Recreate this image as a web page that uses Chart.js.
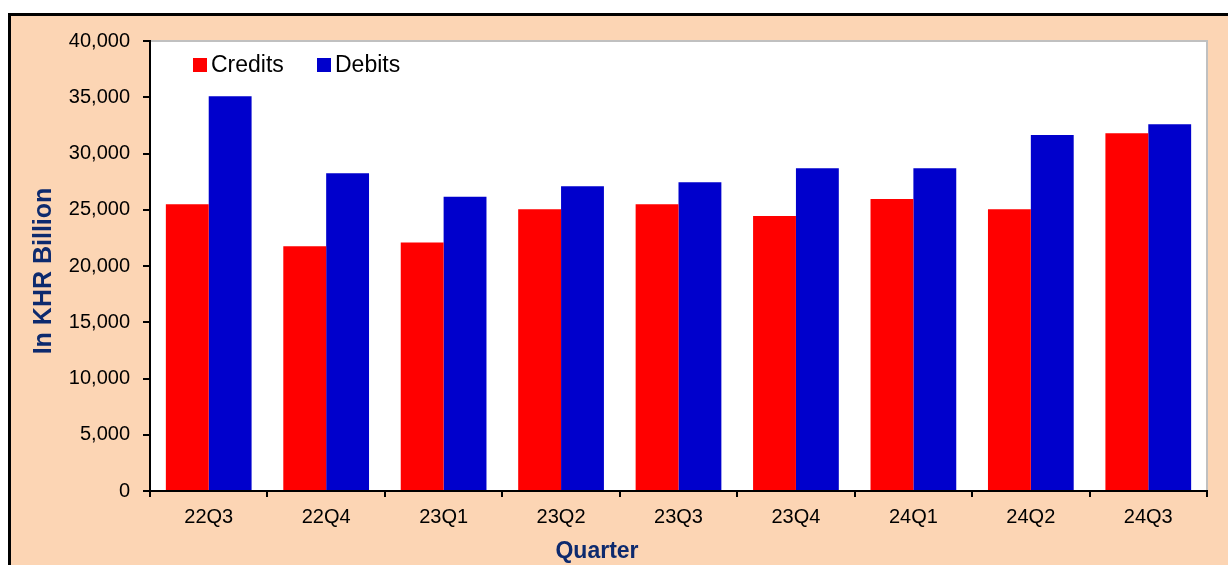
<!DOCTYPE html>
<html>
<head>
<meta charset="utf-8">
<script src="https://cdn.jsdelivr.net/npm/chart.js@4.4.0/dist/chart.umd.min.js"></script>
<style>
  html, body { margin: 0; padding: 0; background: #ffffff; }
  #wrap { position: relative; width: 1228px; height: 565px; }
</style>
</head>
<body>
<div id="wrap"><canvas id="chart" width="1228" height="565"></canvas></div>
<script>
// quarterly flows, KHR billion
const quarters = ['22Q3', '22Q4', '23Q1', '23Q2', '23Q3', '23Q4', '24Q1', '24Q2', '24Q3'];
const credits = [25500, 21750, 22100, 25050, 25500, 24450, 25950, 25050, 31800];
const debits = [35100, 28250, 26150, 27100, 27450, 28700, 28700, 31650, 32600];
const xTitle = 'Quarter';
const yTitle = 'In KHR Billion';

const FONT = 'Arial, "Liberation Sans", sans-serif';
const NAVY = '#0d2a6e';

// peach frame with black outline, grey plot border
const framePlugin = {
  id: 'frame',
  beforeDraw(chart) {
    const { ctx, width, height, chartArea: a } = chart;
    ctx.save();
    ctx.fillStyle = '#ffffff';
    ctx.fillRect(0, 0, width, height);
    ctx.fillStyle = '#fcd5b4';
    ctx.fillRect(9, 14, width, height);
    ctx.strokeStyle = '#000000';
    ctx.lineWidth = 3;
    ctx.beginPath();
    ctx.moveTo(9.5, height + 5);
    ctx.lineTo(9.5, 14.5);
    ctx.lineTo(width + 5, 14.5);
    ctx.stroke();
    ctx.fillStyle = '#ffffff';
    ctx.fillRect(a.left, a.top, a.right - a.left, a.bottom - a.top);
    ctx.strokeStyle = '#c0c0c0';
    ctx.lineWidth = 2;
    ctx.strokeRect(a.left, a.top, a.right - a.left, a.bottom - a.top);
    ctx.restore();
  }
};

// legend inside the plot (top-left) plus the two axis titles
const annotations = {
  id: 'annotations',
  afterDraw(chart) {
    const { ctx } = chart;
    const xs = [193, 317];
    ctx.save();
    ctx.font = '23px ' + FONT;
    ctx.textBaseline = 'middle';
    chart.data.datasets.forEach((ds, i) => {
      ctx.fillStyle = ds.backgroundColor;
      ctx.fillRect(xs[i], 58, 14, 14);
      ctx.fillStyle = '#000000';
      ctx.fillText(ds.label, xs[i] + 18, 66);
    });

    ctx.fillStyle = NAVY;
    ctx.textAlign = 'center';
    ctx.font = 'bold 23px ' + FONT;
    ctx.fillText(xTitle, 597, 552);

    ctx.translate(44, 271);
    ctx.rotate(-Math.PI / 2);
    ctx.font = 'bold 25px ' + FONT;
    ctx.fillText(yTitle, 0, 0);
    ctx.restore();
  }
};

new Chart(document.getElementById('chart'), {
  type: 'bar',
  data: {
    labels: quarters,
    datasets: [
      { label: 'Credits', data: credits, backgroundColor: '#ff0000' },
      { label: 'Debits', data: debits, backgroundColor: '#0000cc' }
    ]
  },
  options: {
    responsive: false,
    animation: false,
    layout: { padding: { top: 41, right: 21, bottom: 0, left: 0 } },
    datasets: { bar: { categoryPercentage: 0.73, barPercentage: 1.0 } },
    plugins: {
      legend: { display: false },
      tooltip: { enabled: false }
    },
    scales: {
      x: {
        afterFit(scale) { scale.height = 74; },
        grid: { drawOnChartArea: false, color: '#000000', lineWidth: 2, tickLength: 6, offset: true },
        border: { color: '#000000', width: 2 },
        ticks: { color: '#000000', font: { family: FONT, size: 20 }, padding: 8, maxRotation: 0 }
      },
      y: {
        min: 0, max: 40000,
        afterFit(scale) { scale.width = 150; },
        grid: { drawOnChartArea: false, color: '#000000', lineWidth: 2, tickLength: 7 },
        border: { color: '#000000', width: 2 },
        ticks: {
          stepSize: 5000, color: '#000000', padding: 13,
          font: { family: FONT, size: 20 },
          callback: v => v.toLocaleString('en-US')
        }
      }
    }
  },
  plugins: [framePlugin, annotations]
});
</script>
</body>
</html>
